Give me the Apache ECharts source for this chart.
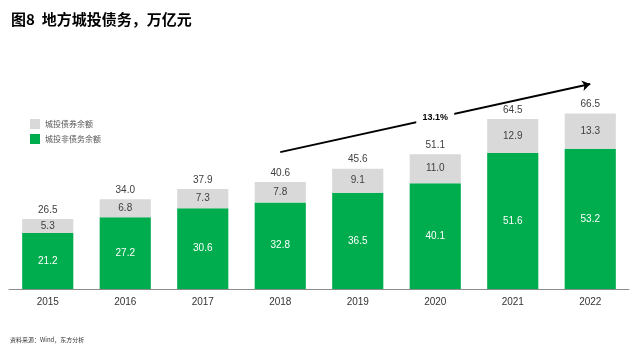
<!DOCTYPE html>
<html>
<head>
<meta charset="utf-8">
<script src="https://cdn.jsdelivr.net/npm/echarts@6/dist/echarts.min.js"></script>
<style>
	html,body{margin:0;padding:0;background:#fff}
	#main{width:633px;height:353px}
</style>
</head>
<body>
<div id="main"></div>
<script>
var years = ['2015','2016','2017','2018','2019','2020','2021','2022'];
var nonBond = [21.2, 27.2, 30.6, 32.8, 36.5, 40.1, 51.6, 53.2];
var bond = [5.3, 6.8, 7.3, 7.8, 9.1, 11.0, 12.9, 13.3];
var totals = [26.5, 34.0, 37.9, 40.6, 45.6, 51.1, 64.5, 66.5];
var cagr = '13.1%';
var arrowFrom = ['2018', 51.9];
var arrowTo = ['2022', 77.7];
var cagrAt = ['2020', 65.2];

var myChart = echarts.init(document.getElementById('main'));
var font = '"Noto Sans CJK SC", "Liberation Sans", sans-serif';
option = {
	animation: false,
	textStyle: {fontFamily: font},
	title: {
		text: '图8  地方城投债务，万亿元',
		left: 6, top: 7,
		textStyle: {fontSize: 15, fontWeight: 'bold', color: '#000', fontFamily: font}
	},
	graphic: [{
		type: 'text', left: 10, top: 337,
		style: {text: '资料来源：Wind，东方分析', fontSize: 6, fill: '#333', fontFamily: font}
	}],
	legend: {
		orient: 'vertical',
		left: 25, top: 114,
		itemWidth: 10, itemHeight: 10, itemGap: 5,
		icon: 'rect',
		textStyle: {fontSize: 8, color: '#555'},
		data: ['城投债券余额', '城投非债务余额']
	},
	grid: {left: 9, right: 4, top: 78, bottom: 64},
	xAxis: {
		type: 'category',
		data: years,
		axisTick: {show: false},
		axisLine: {lineStyle: {color: '#8c8c8c', width: 1}},
		axisLabel: {fontSize: 10, color: '#333', margin: 8, fontFamily: 'Liberation Sans'}
	},
	yAxis: {
		type: 'value', min: 0, max: 80,
		show: false, splitLine: {show: false}
	},
	series: [
	{
		name: '城投非债务余额',
		type: 'bar', stack: 'a',
		barWidth: '66%',
		itemStyle: {color: '#00AD4E'},
		label: {show: true, position: 'inside', color: '#fff', fontSize: 10, fontFamily: 'Liberation Sans',
			formatter: function(p){ return p.value.toFixed(1); }},
		data: nonBond
	},
	{
		name: '城投债券余额',
		type: 'bar', stack: 'a',
		itemStyle: {color: '#D9D9D9'},
		label: {show: true, position: 'inside', color: '#404040', fontSize: 10, fontFamily: 'Liberation Sans',
			formatter: function(p){ return p.value.toFixed(1); }},
		data: bond,
		markLine: {
			silent: true,
			symbol: ['none', 'arrow'],
			symbolSize: 8,
			lineStyle: {color: '#000', width: 2, type: 'solid'},
			label: {show: false},
			data: [[{coord: arrowFrom}, {coord: arrowTo}]]
		},
		markPoint: {
			silent: true,
			symbol: 'rect', symbolSize: [38, 14],
			itemStyle: {color: '#fff'},
			label: {show: true, position: 'inside', formatter: cagr, fontSize: 9, fontWeight: 'bold',
				color: '#000', fontFamily: 'Liberation Sans'},
			data: [{coord: cagrAt}]
		}
	},
	{
		name: '合计',
		type: 'bar', stack: 'a',
		itemStyle: {color: 'transparent'},
		label: {show: true, position: 'top', color: '#404040', fontSize: 10, distance: 4, fontFamily: 'Liberation Sans',
			formatter: function(p){ return totals[p.dataIndex].toFixed(1); }},
		data: years.map(function(){ return 0; })
	}
	]
};
myChart.setOption(option);
</script>
</body>
</html>
